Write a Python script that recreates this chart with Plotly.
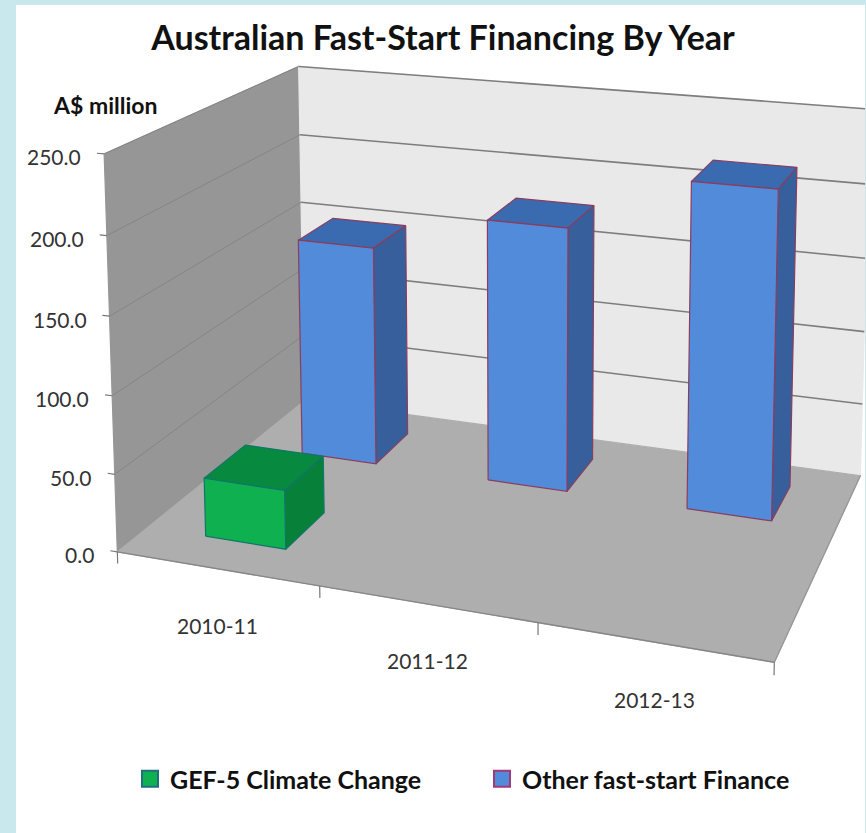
import numpy as np
import plotly.graph_objects as go

TITLE = "Australian Fast-Start Financing By Year"
UNIT = "A$ million"
CATEGORIES = ["2010-11", "2011-12", "2012-13"]
GEF_NAME = "GEF-5 Climate Change"
OTHER_NAME = "Other fast-start Finance"
GEF_VALUES = [38, None, None]
OTHER_VALUES = [151, 178, 216]
Z_TICKS = [0, 50, 100, 150, 200, 250]
Z_TICK_LABELS = ["0.0", "50.0", "100.0", "150.0", "200.0", "250.0"]
Z_MAX = 250

# Perspective of the chart box: box corners (u, v, w in 0..1) and where they land on the page
BOX = [(0, 0, 0), (1, 0, 0), (0, 1, 0), (1, 1, 0), (0, 0, 1), (0, 1, 1), (1, 1, 1),
       (0, 0, .2), (0, 0, .4), (0, 0, .6), (0, 0, .8)]
PAGE = [(119, 552), (774, 662), (303, 400), (861, 476), (104, 153), (300, 67), (870, 109),
        (115, 475), (112, 396), (109, 316), (106, 236)]


def fit_camera():
    rows = []
    for (x, y, z), (px, py) in zip(BOX, PAGE):
        rows.append([x, y, z, 1, 0, 0, 0, 0, -px * x, -px * y, -px * z, -px])
        rows.append([0, 0, 0, 0, x, y, z, 1, -py * x, -py * y, -py * z, -py])
    return np.linalg.svd(np.array(rows, float))[2][-1].reshape(3, 4)


CAM = fit_camera()


def proj(points):
    p = np.c_[np.array(points, float), np.ones(len(points))] @ CAM.T
    return (p[:, 0] / p[:, 2]).tolist(), (p[:, 1] / p[:, 2]).tolist()


BAR_W = 0.135
BAR_D = 0.21
SERIES_V = [0.247, 0.77]

fig = go.Figure()


def poly(points, fill, edge=None, width=1.2, name="", custom=None):
    x, y = proj(points + points[:1])
    fig.add_trace(go.Scatter(
        x=x, y=y, mode="lines", fill="toself", fillcolor=fill,
        line=dict(color=edge or fill, width=width), showlegend=False, name=name,
        hoverinfo="skip" if custom is None else "text",
        text=None if custom is None else f"{name}: {custom}",
    ))


def seg(a, b, color, width=1.0):
    x, y = proj([a, b])
    fig.add_trace(go.Scatter(x=x, y=y, mode="lines", line=dict(color=color, width=width),
                             showlegend=False, hoverinfo="skip"))


# Walls and floor
poly([(0, 0, 0), (0, 1, 0), (0, 1, 1), (0, 0, 1)], "#969696")
poly([(0, 1, 0), (1, 1, 0), (1, 1, 1), (0, 1, 1)], "#e9e9e9")
poly([(0, 0, 0), (1, 0, 0), (1, 1, 0), (0, 1, 0)], "#aeaeae")

for t in Z_TICKS:
    w = t / Z_MAX
    if t:
        seg((0, 0, w), (0, 1, w), "#858585", 1.0)
        seg((0, 1, w), (1, 1, w), "#7d7d7d", 1.6)
    seg((0, 0, w), (-0.012, 0, w), "#777777", 1.2)
seg((0, 0, 0), (1, 0, 0), "#868686", 1.4)
seg((1, 0, 0), (1, 1, 0), "#969696", 1.2)
for i in range(len(CATEGORIES) + 1):
    seg((i / 3, 0, 0), (i / 3, 0, -0.03), "#777777", 1.2)


def bar(i, s, value, front, top, side, edge, name):
    if value is None:
        return
    u0 = (i + 0.5) / 3 - BAR_W / 2
    u1 = u0 + BAR_W
    v0 = SERIES_V[s] - BAR_D / 2
    v1 = v0 + BAR_D
    w = value / Z_MAX
    label = f"{CATEGORIES[i]} {value}"
    poly([(u0, v0, w), (u1, v0, w), (u1, v1, w), (u0, v1, w)], top, edge, name=name, custom=label)
    poly([(u1, v0, 0), (u1, v1, 0), (u1, v1, w), (u1, v0, w)], side, edge, name=name, custom=label)
    poly([(u0, v0, 0), (u1, v0, 0), (u1, v0, w), (u0, v0, w)], front, edge, name=name, custom=label)


for i, val in enumerate(OTHER_VALUES):
    bar(i, 1, val, "#528bd9", "#3a6bb0", "#365f9c", "#8a3d5e", OTHER_NAME)
for i, val in enumerate(GEF_VALUES):
    bar(i, 0, val, "#0fb04f", "#078a3f", "#078139", "#11766a", GEF_NAME)

# Legend keys
for name, fill, edge, lg in [(GEF_NAME, "#0fb04f", "#1f6f80", "legend"),
                             (OTHER_NAME, "#528bd9", "#a03a78", "legend2")]:
    fig.add_trace(go.Scatter(x=[None], y=[None], mode="markers", name=name, legend=lg,
                             marker=dict(symbol="square", size=17, color=fill,
                                         line=dict(color=edge, width=2))))

ann = []
xs, ys = proj([(0, 0, t / Z_MAX) for t in Z_TICKS])
for x, y, lab in zip(xs, ys, Z_TICK_LABELS):
    ann.append(dict(x=x, y=y, text=lab, xanchor="right", yanchor="middle", xshift=-21, yshift=-3,
                    showarrow=False, font=dict(family="Lato", size=21, color="#333333")))
xs, ys = proj([((i + 0.5) / 3, 0, 0) for i in range(len(CATEGORIES))])
for x, y, lab in zip(xs, ys, CATEGORIES):
    ann.append(dict(x=x, y=y, text=lab, xanchor="center", yanchor="middle", xshift=1, yshift=-57,
                    showarrow=False, font=dict(family="Lato", size=21, color="#333333")))
ann.append(dict(xref="paper", yref="paper", x=(105 - 16) / 849, y=1 - (105 - 5) / 828, text=UNIT,
                xanchor="center", yanchor="middle", showarrow=False,
                font=dict(family="Lato", size=23, color="#111111", weight="bold")))


def legend_at(px):
    return dict(x=(px - 16) / 849, xanchor="left", y=1 - (779 - 5) / 828, yanchor="middle",
                font=dict(family="Lato", size=25, color="#111111", weight="bold"),
                bgcolor="rgba(0,0,0,0)", itemwidth=30)


fig.update_layout(
    width=866, height=833, autosize=False,
    margin=dict(l=16, r=1, t=5, b=0),
    paper_bgcolor="#c8e8ee", plot_bgcolor="#ffffff",
    title=dict(text=TITLE, x=443 / 866, xanchor="center", xref="container",
               y=1 - 38 / 833, yanchor="middle", yref="container",
               font=dict(family="Lato", size=34, color="#111111", weight="bold")),
    xaxis=dict(visible=False, range=[16, 865], fixedrange=True),
    yaxis=dict(visible=False, range=[833, 5], fixedrange=True),
    legend=legend_at(130),
    legend2=legend_at(482),
    annotations=ann,
)

fig.write_html("out.html", config={"displayModeBar": False},
               post_script="document.body.style.margin='0';")
